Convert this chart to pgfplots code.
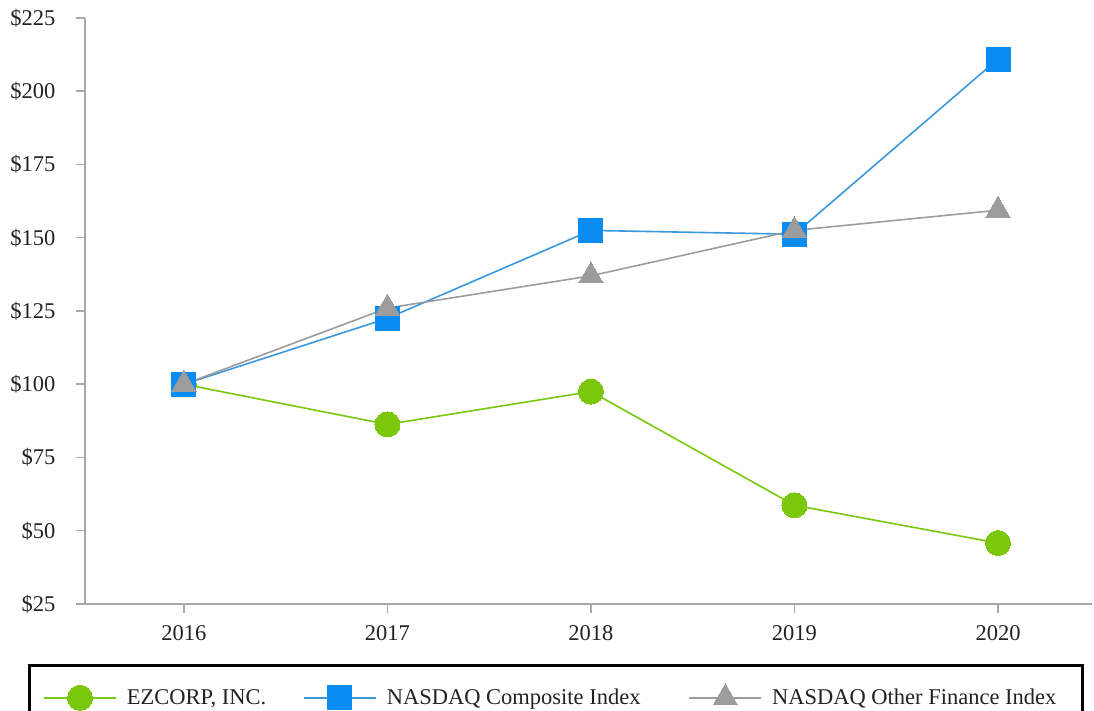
\documentclass[border=0pt]{standalone}
\usepackage{fontspec}
\setmainfont{Liberation Serif}
\usepackage{pgfplots}
\pgfplotsset{compat=1.18}

\definecolor{ezgreen}{HTML}{7AC70C}
\definecolor{nqblue}{HTML}{0A8CF2}
\definecolor{nqline}{HTML}{3A98DC}
\definecolor{fingray}{HTML}{9C9C9C}
\definecolor{axgray}{HTML}{A8A8A8}
\definecolor{txt}{HTML}{222222}

\newcommand{\chartfont}{\fontsize{22.5}{27}\selectfont}

\begin{document}
\begin{tikzpicture}
\useasboundingbox (-85pt,-107pt) rectangle (1009pt,604pt);
\clip (-85pt,-107pt) rectangle (1009pt,604pt);

\begin{axis}[
  scale only axis,
  width=1007pt, height=586pt,
  xmin=2015.514, xmax=2020.462,
  ymin=25, ymax=225,
  axis x line*=bottom,
  axis y line*=left,
  axis line style={axgray, line width=1.8pt, -},
  tick style={axgray, line width=1.5pt},
  major tick length=9pt,
  tick align=outside,
  xtick={2016,2017,2018,2019,2020},
  xticklabels={2016,2017,2018,2019,2020},
  ytick={25,50,75,100,125,150,175,200,225},
  yticklabels={\$25,\$50,\$75,\$100,\$125,\$150,\$175,\$200,\$225},
  every tick label/.append style={font=\chartfont, text=txt},
  yticklabel style={xshift=-17pt},
  xticklabel style={yshift=-9pt},
  clip=false,
  legend columns=3,
  legend style={
    at={(-0.0417,-0.1587)}, anchor=west,
    draw=none, fill=none, inner sep=0pt,
    font=\chartfont, text=txt,
    nodes={inner sep=0pt},
    /tikz/column 1/.style={column sep=10pt},
    /tikz/column 2/.style={column sep=37pt},
    /tikz/column 3/.style={column sep=10pt},
    /tikz/column 4/.style={column sep=48pt},
    /tikz/column 5/.style={column sep=10pt},
  },
  legend image code/.code={
    \draw[mark repeat=2, mark phase=2] plot coordinates {(0pt,0pt) (36pt,0pt) (72pt,0pt)};
  },
]
\addplot [ezgreen, line width=1.6pt, mark=*, mark size=12.5pt, mark options={fill=ezgreen, draw=ezgreen, line width=0pt}]
  coordinates {(2016,100) (2017,86.3) (2018,97.5) (2019,58.7) (2020,45.8)};
\addlegendentry{EZCORP, INC.}

\addplot [nqline, line width=1.6pt, mark=square*, mark size=12pt, mark options={fill=nqblue, draw=nqblue, line width=0pt}]
  coordinates {(2016,100) (2017,122.5) (2018,152.5) (2019,151.2) (2020,211)};
\addlegendentry{NASDAQ Composite Index}

\addplot [fingray, line width=1.6pt, mark=triangle*, mark size=14pt, mark options={fill=fingray, draw=fingray, line width=0pt}]
  coordinates {(2016,100) (2017,126) (2018,137) (2019,152.5) (2020,159.4)};
\addlegendentry{NASDAQ Other Finance Index}
\end{axis}

% frame round the legend, cut by the lower page edge as in the reference
\draw[black, line width=3pt] (-55pt,-130pt) -- (-55pt,-62pt) -- (997pt,-62pt) -- (997pt,-130pt);
\end{tikzpicture}
\end{document}
